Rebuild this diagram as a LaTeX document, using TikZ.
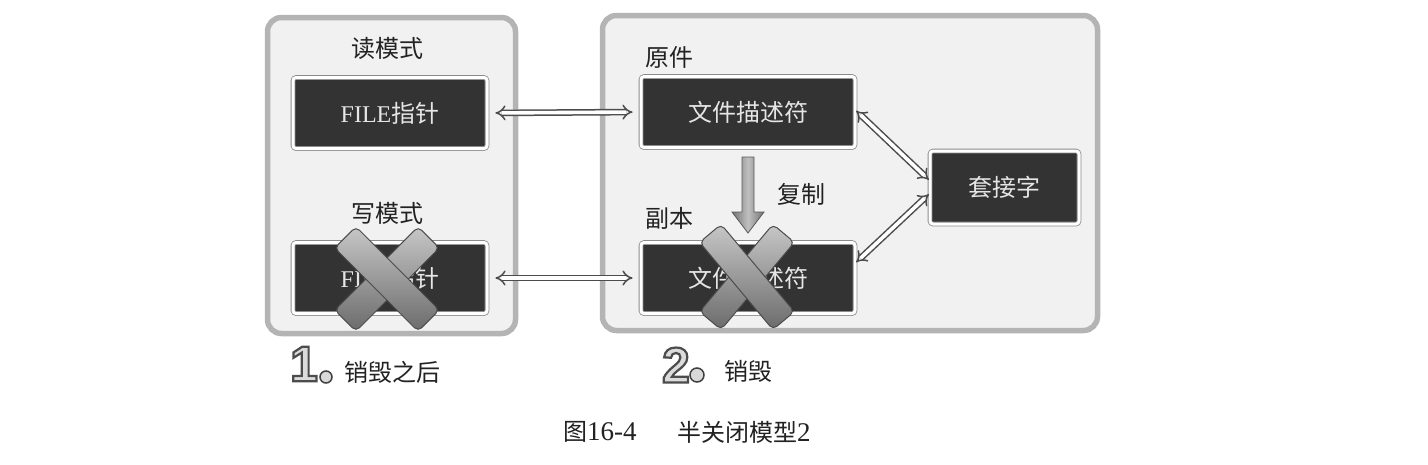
\documentclass[tikz,border=0pt]{standalone}
\usepackage{fontspec}
\setmainfont{Liberation Serif}
\newfontfamily\cjk{Noto Sans CJK SC}
\newfontfamily\digitfont{Liberation Sans}
\usetikzlibrary{arrows.meta}
\definecolor{panelfill}{HTML}{F1F1F1}
\definecolor{panelline}{HTML}{B4B4B4}
\definecolor{boxfill}{HTML}{333333}
\definecolor{boxtxt}{HTML}{E6E6E6}
\definecolor{ink}{HTML}{222222}
\newcommand{\outlinedigit}[1]{\special{pdf:code 2 Tr 2.2 w 0.3 G 0.86 g}#1\special{pdf:code 0 Tr 1 w}}
\tikzset{
  panel/.style={fill=panelfill, draw=panelline, line width=5.5pt, rounded corners=14pt},
  darkbox/.style={draw=black!45, double=white, double distance=3pt, line width=0.8pt,
    fill=boxfill, rounded corners=3pt, inner sep=0pt, text=boxtxt,
    font=\fontsize{24}{28}\selectfont},
  lbl/.style={font=\cjk\fontsize{24}{28}\selectfont, text=ink, inner sep=0pt},
  dblarrow/.style={draw=black!70, double=white, double distance=3.6pt, line width=1.5pt,
    {Implies[scale=1.6]}-{Implies[scale=1.6]}},
  xbar/.style={draw=black!70, line width=1pt, rounded corners=5pt, shading=axis,
    top color=black!22, bottom color=black!58, minimum width=118pt, minimum height=30pt,
    inner sep=0pt},
  bignum/.style={font=\digitfont\bfseries\fontsize{50}{50}\selectfont, inner sep=0pt},
  numdot/.style={draw=black!75, line width=1.5pt, fill=black!15}
}
\begin{document}
\begin{tikzpicture}[x=1pt,y=-1pt]
\useasboundingbox (0,0) rectangle (1428,464);
\fill[white] (0,0) rectangle (1428,464);
% panels
\draw[panel] (267.5,17.5) rectangle (515.5,333.5);
\draw[panel] (602.5,15.5) rectangle (1097.5,330.5);
% left panel
\node[lbl] (rd) at (387,48) {读模式};
\node[darkbox, minimum width=194pt, minimum height=71pt] (fp1) at (390,113) {FILE{\cjk 指针}};
\node[lbl] (wr) at (387,213) {写模式};
\node[darkbox, minimum width=194pt, minimum height=71pt] (fp2) at (390,278) {FILE{\cjk 指针}};
% right panel
\node[lbl, anchor=west] (orig) at (645,57) {原件};
\node[darkbox, minimum width=214pt, minimum height=71pt, font=\cjk\fontsize{24}{28}\selectfont] (fd1) at (748,112) {文件描述符};
\node[lbl, anchor=west] (copyl) at (645,218) {副本};
\node[darkbox, minimum width=214pt, minimum height=71pt, font=\cjk\fontsize{24}{28}\selectfont] (fd2) at (748,278) {文件描述符};
\node[darkbox, minimum width=149pt, minimum height=73pt, font=\cjk\fontsize{24}{28}\selectfont] (sock) at (1004.5,187.5) {套接字};
\node[lbl] (dup) at (801,194) {复制};
% copy arrow
\shade[draw=black!65, line width=0.8pt, left color=black!55, right color=black!55, middle color=black!25]
  (742,157) -- (754,157) -- (754,212) -- (764,212) -- (748,233) -- (732,212) -- (742,212) -- cycle;
% connectors
\draw[dblarrow, shorten <=8pt, shorten >=8pt] (fp1.east) -- (fd1.west);
\draw[dblarrow, shorten <=8pt, shorten >=8pt] (fp2.east) -- (fd2.west);
\draw[dblarrow, shorten <=1pt, shorten >=1pt] ([yshift=2pt]fd1.east) -- ([yshift=7pt]sock.west);
\draw[dblarrow, shorten <=1pt, shorten >=1pt] ([yshift=15pt]fd2.east) -- ([yshift=-6pt]sock.west);
% crosses
\node[xbar, rotate=45] (x1a) at (387,279) {};
\node[xbar, rotate=-45] (x1b) at (387,279) {};
\node[xbar, rotate=50, minimum width=114pt, minimum height=28pt] (x2a) at (747,277) {};
\node[xbar, rotate=-50, minimum width=114pt, minimum height=28pt] (x2b) at (747,277) {};
% bottom labels
\node[bignum] (n1) at (304,364) {\outlinedigit{1}};
\draw[numdot] (326,377) circle (6pt);
\node[lbl] (l1) at (392,372) {销毁之后};
\node[bignum] (n2) at (676,365) {\outlinedigit{2}};
\draw[numdot] (697,375) circle (7pt);
\node[lbl] (l2) at (748,371) {销毁};
% caption
\node[anchor=west, inner sep=0pt, text=ink, font=\fontsize{27}{30}\selectfont] (capa) at (563,432) {{\cjk\fontsize{24}{28}\selectfont 图}16-4};
\node[anchor=west, lbl] (capb) at (677,432) {半关闭模型{\rmfamily\fontsize{27}{30}\selectfont 2}};
\end{tikzpicture}
\end{document}
